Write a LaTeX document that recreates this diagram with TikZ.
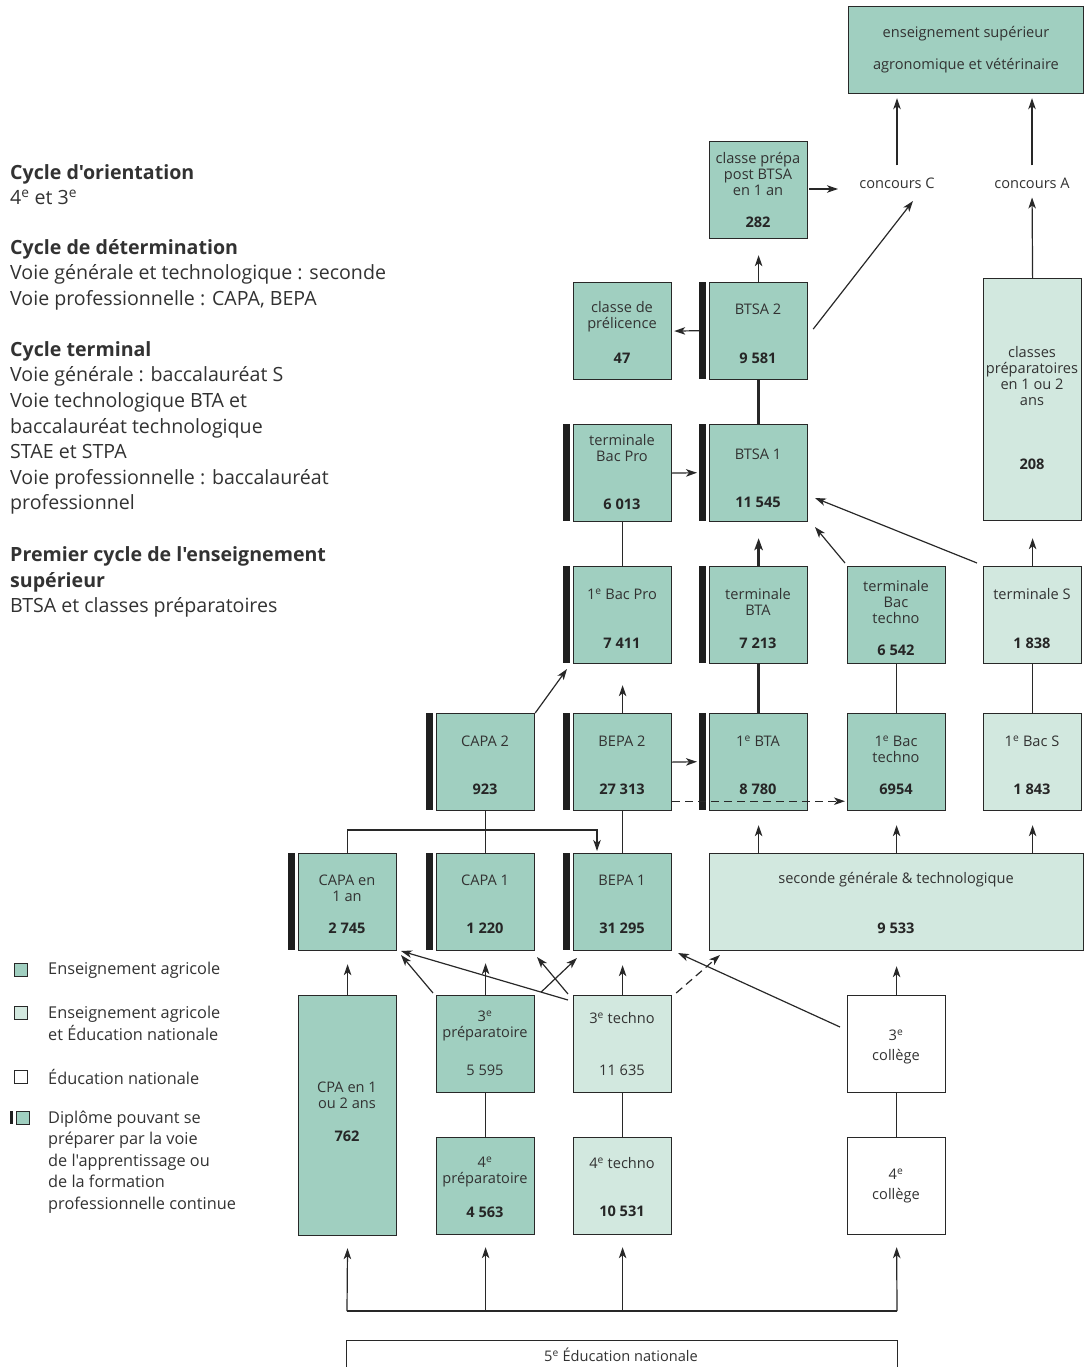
\documentclass[tikz,border=0pt]{standalone}
\usepackage{fontspec}
\setmainfont{Open Sans}[Ligatures=TeXOff]
\usetikzlibrary{arrows.meta,calc}
\definecolor{dk}{RGB}{160,207,192}
\definecolor{lt}{RGB}{210,232,223}
\definecolor{ink}{RGB}{50,50,50}
\definecolor{lnc}{RGB}{40,40,40}
\newcommand\ee{\textsuperscript{e}}
\newcommand\apo{'}
\begin{document}
\begin{tikzpicture}[x=1pt,y=-1pt,
  box/.style={draw=lnc, line width=1.2pt, inner sep=0pt, anchor=north west, minimum width=98pt, minimum height=97pt},
  dkbox/.style={box, fill=dk},
  ltbox/.style={box, fill=lt},
  whbox/.style={box, fill=white},
  barbox/.style={fill=black!88, draw=none, inner sep=0pt, anchor=north west, minimum width=7pt, minimum height=97pt},
  tx/.style={font=\fontsize{14.6}{16}\selectfont, text=ink, inner sep=0pt, align=center},
  nb/.style={font=\fontsize{14.6}{16}\selectfont\bfseries, text=black!85, inner sep=0pt, align=center},
  side/.style={font=\fontsize{19.6}{25.6}\selectfont, text=ink, inner sep=0pt, align=left, anchor=west},
  leg/.style={font=\fontsize{16.3}{21.5}\selectfont, text=ink, inner sep=0pt, align=left, anchor=west},
  sq/.style={draw=lnc, line width=1pt, inner sep=0pt, minimum size=13pt, anchor=north west},
  cn/.style={draw=lnc, line width=1.2pt},
  thk/.style={draw=lnc, line width=2.4pt},
  arr/.style={cn, -{Stealth[length=11pt,width=7.5pt,inset=3pt]}},
  thkarr/.style={thk, -{Stealth[length=12pt,width=8.5pt,inset=3pt]}},
  dsh/.style={arr, dash pattern=on 8pt off 5pt}
]
\useasboundingbox (0,0) rectangle (1084,1367);

% ---------------- left text ----------------
\node[side] (s1) at (10,184.5) {\textbf{Cycle d\apo orientation}\\4\ee{} et 3\ee};
\node[side] (s2) at (10,274.5) {\textbf{Cycle de détermination}\\Voie générale et technologique : seconde\\Voie professionnelle : CAPA, BEPA};
\node[side] (s3) at (10,428) {\textbf{Cycle terminal}\\Voie générale : baccalauréat S\\Voie technologique BTA et\\baccalauréat technologique\\STAE et STPA\\Voie professionnelle : baccalauréat\\professionnel};
\node[side] (s4) at (10,582) {\textbf{Premier cycle de l\apo enseignement}\\\textbf{supérieur}\\BTSA et classes préparatoires};

% ---------------- legend ----------------
\node[sq, fill=dk] (l1) at (14,963) {};
\node[leg] (l1t) at (48,970) {Enseignement agricole};
\node[sq, fill=lt] (l2) at (14,1006) {};
\node[leg] (l2t) at (48,1023.5) {Enseignement agricole\\et Éducation nationale};
\node[sq, fill=white] (l3) at (14,1070) {};
\node[leg] (l3t) at (48,1077) {Éducation nationale};
\node[barbox, minimum width=3pt, minimum height=13pt] (l4b) at (10,1111) {};
\node[sq, fill=dk] (l4) at (16,1111) {};
\node[leg] (l4t) at (48,1162) {Diplôme pouvant se\\préparer par la voie\\de l\apo apprentissage ou\\de la formation\\professionnelle continue};

% ---------------- boxes ----------------
\node[dkbox, minimum width=235pt, minimum height=87pt] (enssup) at (848,6) {};
\node[tx] (enssupa) at (966,34) {enseignement supérieur};
\node[tx] (enssupb) at (966,66) {agronomique et vétérinaire};

\node[dkbox] (prepa) at (709,141) {};
\node[tx] (prepat) at (758,174) {classe prépa\\post BTSA\\en 1 an};
\node[nb] (prepan) at (758,222) {282};

\node[tx] (concC) at (897,183) {concours C};
\node[tx] (concA) at (1032,183) {concours A};

\node[ltbox, minimum height=242pt] (cprep) at (983,278) {};
\node[tx] (cprept) at (1032,376) {classes\\préparatoires\\en 1 ou 2\\ans};
\node[nb] (cprepn) at (1032,464) {208};

\node[dkbox] (preli) at (573,282) {};
\node[tx] (prelit) at (622,317) {classe de\\prélicence};
\node[nb] (prelin) at (622,358) {47};

\node[barbox] (btsa2b) at (699,282) {};
\node[dkbox] (btsa2) at (709,282) {};
\node[tx] (btsa2t) at (758,309) {BTSA 2};
\node[nb] (btsa2n) at (758,358) {9 581};

\node[barbox] (tbpb) at (563,424) {};
\node[dkbox] (tbp) at (573,424) {};
\node[tx] (tbpt) at (622,448) {terminale\\Bac Pro};
\node[nb] (tbpn) at (622,504) {6 013};

\node[barbox] (btsa1b) at (699,424) {};
\node[dkbox] (btsa1) at (709,424) {};
\node[tx] (btsa1t) at (758,454) {BTSA 1};
\node[nb] (btsa1n) at (758,502) {11 545};

\node[barbox] (bp1b) at (563,566) {};
\node[dkbox] (bp1) at (573,566) {};
\node[tx] (bp1t) at (622,594) {1\ee{} Bac Pro};
\node[nb] (bp1n) at (622,643) {7 411};

\node[barbox] (tbtab) at (699,566) {};
\node[dkbox] (tbta) at (709,566) {};
\node[tx] (tbtat) at (758,602) {terminale\\BTA};
\node[nb] (tbtan) at (758,643) {7 213};

\node[dkbox] (tbt) at (847,566) {};
\node[tx] (tbtt) at (896,602) {terminale\\Bac\\techno};
\node[nb] (tbtn) at (896,650) {6 542};

\node[ltbox] (ts) at (983,566) {};
\node[tx] (tst) at (1032,594) {terminale S};
\node[nb] (tsn) at (1032,643) {1 838};

\node[barbox] (capa2b) at (426,713) {};
\node[dkbox] (capa2) at (436,713) {};
\node[tx] (capa2t) at (485,741) {CAPA 2};
\node[nb] (capa2n) at (485,789) {923};

\node[barbox] (bepa2b) at (563,713) {};
\node[dkbox] (bepa2) at (573,713) {};
\node[tx] (bepa2t) at (622,741) {BEPA 2};
\node[nb] (bepa2n) at (622,789) {27 313};

\node[barbox] (bta1b) at (699,713) {};
\node[dkbox] (bta1) at (709,713) {};
\node[tx] (bta1t) at (758,741) {1\ee{} BTA};
\node[nb] (bta1n) at (758,789) {8 780};

\node[dkbox] (bt1) at (847,713) {};
\node[tx] (bt1t) at (896,749) {1\ee{} Bac\\techno};
\node[nb] (bt1n) at (896,789) {6954};

\node[ltbox] (bs1) at (983,713) {};
\node[tx] (bs1t) at (1032,741) {1\ee{} Bac S};
\node[nb] (bs1n) at (1032,789) {1 843};

\node[barbox] (capa1anb) at (288,853) {};
\node[dkbox] (capa1an) at (298,853) {};
\node[tx] (capa1ant) at (347,888) {CAPA en\\1 an};
\node[nb] (capa1ann) at (347,928) {2 745};

\node[barbox] (capa1b) at (426,853) {};
\node[dkbox] (capa1) at (436,853) {};
\node[tx] (capa1t) at (485,880) {CAPA 1};
\node[nb] (capa1n) at (485,928) {1 220};

\node[barbox] (bepa1b) at (563,853) {};
\node[dkbox] (bepa1) at (573,853) {};
\node[tx] (bepa1t) at (622,880) {BEPA 1};
\node[nb] (bepa1n) at (622,928) {31 295};

\node[ltbox, minimum width=374pt] (sec) at (709,853) {};
\node[tx] (sect) at (896,880) {seconde générale \& technologique};
\node[nb] (secn) at (896,928) {9 533};

\node[dkbox, minimum height=240pt] (cpa) at (298,995) {};
\node[tx] (cpat) at (347,1095) {CPA en 1\\ou 2 ans};
\node[nb] (cpan) at (347,1136) {762};

\node[dkbox] (p3) at (436,995) {};
\node[tx] (p3t) at (485,1026) {3\ee\\préparatoire};
\node[tx] (p3n) at (485,1070) {5 595};

\node[ltbox] (t3) at (573,995) {};
\node[tx] (t3t) at (622,1018) {3\ee{} techno};
\node[tx] (t3n) at (622,1070) {11 635};

\node[whbox] (c3) at (847,995) {};
\node[tx] (c3a) at (896,1035) {3\ee};
\node[tx] (c3b) at (896,1057) {collège};

\node[dkbox] (p4) at (436,1137) {};
\node[tx] (p4t) at (485,1172) {4\ee\\préparatoire};
\node[nb] (p4n) at (485,1212) {4 563};

\node[ltbox] (t4) at (573,1137) {};
\node[tx] (t4t) at (622,1163) {4\ee{} techno};
\node[nb] (t4n) at (622,1211) {10 531};

\node[whbox] (c4) at (847,1137) {};
\node[tx] (c4a) at (896,1174) {4\ee};
\node[tx] (c4b) at (896,1196) {collège};

\node[whbox, minimum width=551pt, minimum height=45pt] (e5) at (346,1340) {};
\node[tx] (e5t) at (621,1355) {5\ee{} Éducation nationale};

% ---------------- free ends ----------------
\coordinate (cCin) at (838,189);
\coordinate (cCdiag) at (913,201);
\coordinate (b1a) at (815,527);
\coordinate (b1b) at (815,498);
\coordinate (bp1in) at (567,669);
\coordinate (bjoin) at (597,830);
\coordinate (ca1) at (401,955);
\coordinate (ca2) at (401,951);
\coordinate (cc1) at (537,957);
\coordinate (be1) at (577,958);
\coordinate (sc1) at (720,955);
\coordinate (be2) at (678,953);
\coordinate (jl) at (347,1311);
\coordinate (jr) at (897,1311);

% ---------------- connectors ----------------
\draw[arr, shorten <=12pt, shorten >=4pt] (concC.north) -- (concC.north |- enssup.south);
\draw[arr, shorten <=12pt, shorten >=4pt] (concA.north) -- (concA.north |- enssup.south);
\draw[arr, shorten >=9pt] (cprep.north) -- (concA.south);
\draw[arr, shorten <=1pt] (prepa.east |- cCin) -- (cCin);
\draw[arr] ([shift={(5,-2)}]btsa2.east) -- (cCdiag);
\draw[arr, shorten >=16pt] (btsa2.north) -- (prepa.south);
\draw[arr, shorten >=2pt] (btsa2b.west) -- (preli.east);
\draw[thk] (btsa1.north) -- (btsa2.south);
\draw[arr, shorten >=2pt] (tbp.east) -- (btsa1b.west);
\draw[cn] (tbp.south) -- (bp1.north);
\draw[thkarr, shorten >=16pt] (tbta.north) -- (btsa1.south);
\draw[arr] ([shift={(-2,-3)}]tbt.north west) -- (b1a);
\draw[arr] ([shift={(-6,-3)}]ts.north west) -- (b1b);
\draw[arr, shorten >=17pt] (ts.north) -- (cprep.south);
\draw[thk] (tbta.south) -- (bta1.north);
\draw[cn] (tbt.south) -- (bt1.north);
\draw[cn] (ts.south) -- (bs1.north);
\draw[arr, shorten >=21pt] (bepa2.north) -- (bp1.south);
\draw[arr] (capa2.north east) -- (bp1in);
\draw[arr, shorten >=2pt] (bepa2.east) -- (bta1b.west);
\draw[dsh, shorten >=2pt] ([yshift=10pt]bepa2.south east) -- ([yshift=10pt]bt1.south west);
\draw[arr, shorten >=14pt] (sec.north -| bta1.south) -- (bta1.south);
\draw[arr, shorten >=14pt] (sec.north -| bt1.south) -- (bt1.south);
\draw[arr, shorten >=14pt] (sec.north -| bs1.south) -- (bs1.south);
\draw[cn] (capa1.north) -- (capa2.south);
\draw[cn] (bepa1.north) -- (bepa2.south);
\draw[arr, shorten >=2pt] (capa1an.north) |- (bjoin) -- (bjoin |- bepa1.north);
\draw[arr, shorten >=13pt] (cpa.north) -- (capa1an.south);
\draw[arr, shorten >=12pt] (p3.north) -- (capa1.south);
\draw[arr] ([shift={(-3,-2)}]p3.north west) -- (ca1);
\draw[arr] ([shift={(-5,5)}]t3.north west) -- (ca2);
\draw[arr] ([shift={(-5,-1)}]t3.north west) -- (cc1);
\draw[arr] ([shift={(6,-3)}]p3.north east) -- (be1);
\draw[arr, shorten >=14pt] (t3.north) -- (bepa1.south);
\draw[dsh] ([shift={(4,-2)}]t3.north east) -- (sc1);
\draw[arr] ([shift={(-7,32)}]c3.north west) -- (be2);
\draw[arr, shorten >=15pt] (c3.north) -- (sec.south -| c3.north);
\draw[cn] (p3.south) -- (p4.north);
\draw[cn] (t3.south) -- (t4.north);
\draw[cn] (c3.south) -- (c4.north);
\draw[cn] (jl) -- (jr);
\draw[arr, shorten >=12pt] (jl) -- (cpa.south);
\draw[arr, shorten >=12pt] (jl -| p4.south) -- (p4.south);
\draw[arr, shorten >=12pt] (jl -| t4.south) -- (t4.south);
\draw[arr, shorten >=12pt] (jr) -- (c4.south);
\end{tikzpicture}
\end{document}
